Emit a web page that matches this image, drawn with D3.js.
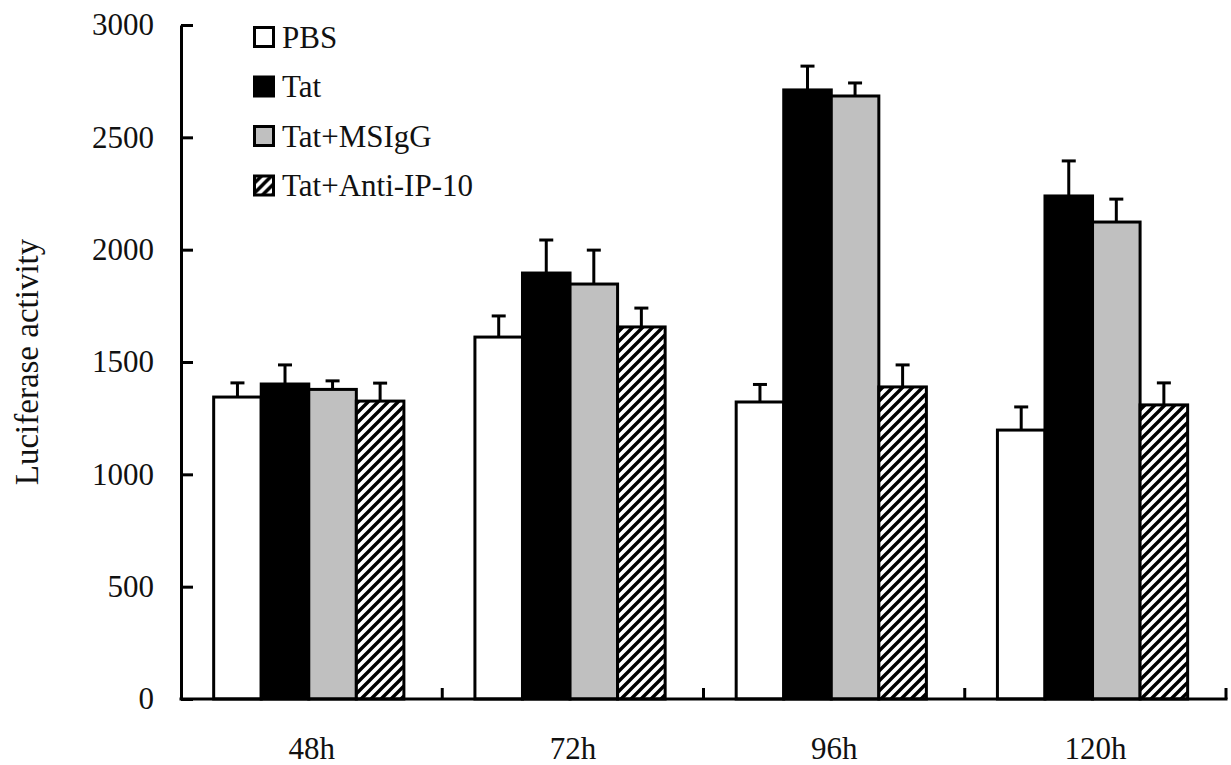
<!DOCTYPE html>
<html>
<head>
<meta charset="utf-8">
<script src="https://cdn.jsdelivr.net/npm/d3@7"></script>
<style>
  html, body { margin: 0; padding: 0; background: #fff; }
  svg { display: block; font-family: "Liberation Serif", "Times New Roman", serif; }
</style>
</head>
<body>
<svg id="chart" width="1231" height="765"></svg>
<script>
// Time points and treatment groups
const categories = ["48h", "72h", "96h", "120h"];
const seriesNames = ["PBS", "Tat", "Tat+MSIgG", "Tat+Anti-IP-10"];

// Mean luciferase activity per treatment
const pbsValues   = [1344, 1611, 1322, 1197];
const tatValues   = [1402, 1896, 2711, 2239];
const msigValues  = [1378, 1847, 2684, 2123];
const antiValues  = [1326, 1656, 1389, 1309];

// Upper error (SD) per treatment
const pbsErrors   = [63, 94, 78, 103];
const tatErrors   = [85, 147, 106, 156];
const msigErrors  = [38, 151, 58, 102];
const antiErrors  = [80, 84, 98, 98];

const yTicks = [0, 500, 1000, 1500, 2000, 2500, 3000];

const seriesValues = [pbsValues, tatValues, msigValues, antiValues];
const seriesErrors = [pbsErrors, tatErrors, msigErrors, antiErrors];

const svg = d3.select("#chart");
const plotLeft = 181, plotRight = 1226, plotTop = 25, plotBottom = 699;

const x0 = d3.scaleBand().domain(categories).range([plotLeft, plotRight]).padding(0);
const x1 = d3.scaleBand().domain(seriesNames).range([0, x0.bandwidth()])
  .paddingInner(0).paddingOuter(0.747).align(0.46);
const y = d3.scaleLinear().domain([0, 3000]).range([plotBottom, plotTop]);

// Diagonal hatch for the antibody-blocked group
const defs = svg.append("defs");
const pat = defs.append("pattern")
  .attr("id", "hatch").attr("patternUnits", "userSpaceOnUse")
  .attr("width", 10).attr("height", 10);
pat.append("rect").attr("width", 10).attr("height", 10).attr("fill", "#fff");
pat.append("path")
  .attr("d", "M-2,2 L2,-2 M0,10 L10,0 M8,12 L12,8")
  .attr("stroke", "#000").attr("stroke-width", 3.4);

const fills = { "PBS": "#ffffff", "Tat": "#000000", "Tat+MSIgG": "#c0c0c0", "Tat+Anti-IP-10": "url(#hatch)" };

const rows = [];
categories.forEach((c, i) => {
  seriesNames.forEach((s, j) => {
    rows.push({ cat: c, series: s, value: seriesValues[j][i], err: seriesErrors[j][i] });
  });
});

// Error bars (upper only), drawn beneath the bars
const eb = svg.append("g").attr("stroke", "#000").attr("stroke-width", 3);
rows.forEach(d => {
  const cx = x0(d.cat) + x1(d.series) + x1.bandwidth() / 2;
  eb.append("line").attr("x1", cx).attr("x2", cx).attr("y1", y(d.value)).attr("y2", y(d.value + d.err));
  eb.append("line").attr("x1", cx - 7).attr("x2", cx + 7).attr("y1", y(d.value + d.err)).attr("y2", y(d.value + d.err));
});

// Bars
svg.append("g").selectAll("rect").data(rows).join("rect")
  .attr("x", d => x0(d.cat) + x1(d.series))
  .attr("y", d => y(d.value))
  .attr("width", x1.bandwidth())
  .attr("height", d => y(0) - y(d.value))
  .attr("fill", d => fills[d.series])
  .attr("stroke", "#000").attr("stroke-width", 3);

// Y axis with inward ticks
const yAxis = svg.append("g").attr("transform", `translate(${plotLeft},0)`)
  .call(d3.axisLeft(y).tickValues(yTicks).tickFormat(d3.format("d"))
    .tickSizeInner(-12).tickSizeOuter(0).tickPadding(27));
yAxis.select(".domain").attr("stroke", "#000").attr("stroke-width", 3);
yAxis.selectAll(".tick line").attr("stroke", "#000").attr("stroke-width", 3);
yAxis.selectAll(".tick text").attr("font-size", 31).attr("fill", "#111")
  .attr("font-family", "Liberation Serif");

// X axis: category labels, ticks at group boundaries pointing up
const xAxis = svg.append("g").attr("transform", `translate(0,${plotBottom})`)
  .call(d3.axisBottom(x0).tickSize(0).tickPadding(38));
xAxis.select(".domain").remove();
xAxis.selectAll(".tick text").attr("font-size", 31).attr("fill", "#111")
  .attr("font-family", "Liberation Serif");
svg.append("line").attr("x1", plotLeft - 1.5).attr("x2", plotRight + 1.5)
  .attr("y1", plotBottom).attr("y2", plotBottom).attr("stroke", "#000").attr("stroke-width", 3);
const bounds = categories.map(c => x0(c)).concat([x0(categories[categories.length - 1]) + x0.bandwidth()]);
svg.append("g").selectAll("line").data(bounds.slice(1)).join("line")
  .attr("x1", d => d).attr("x2", d => d)
  .attr("y1", plotBottom).attr("y2", plotBottom - 11)
  .attr("stroke", "#000").attr("stroke-width", 3);

// Y axis title
svg.append("text")
  .attr("transform", `translate(38,${(plotTop + plotBottom) / 2}) rotate(-90)`)
  .attr("text-anchor", "middle")
  .attr("font-size", 33).attr("fill", "#111")
  .text("Luciferase activity");

// Legend
const legend = svg.append("g").attr("transform", "translate(253,26)");
seriesNames.forEach((s, i) => {
  const g = legend.append("g").attr("transform", `translate(0,${i * 49.5})`);
  g.append("rect").attr("x", 1.5).attr("y", 1.5).attr("width", 19).attr("height", 19)
    .attr("fill", fills[s]).attr("stroke", "#000").attr("stroke-width", 3);
  g.append("text").attr("x", 29).attr("y", 11).attr("dy", "0.35em")
    .attr("font-size", 31).attr("fill", "#111").text(s);
});
</script>
</body>
</html>
